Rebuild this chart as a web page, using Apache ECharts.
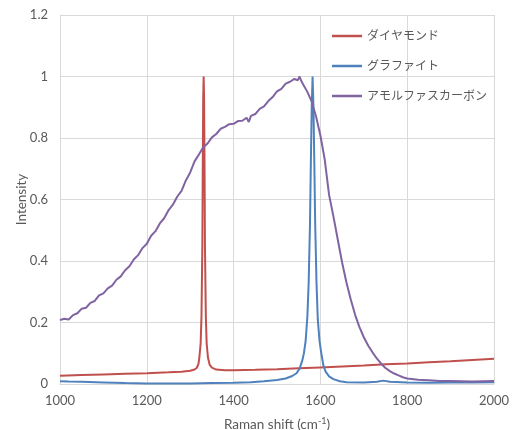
<!DOCTYPE html>
<html>
<head>
<meta charset="utf-8">
<script src="https://cdn.jsdelivr.net/npm/echarts@6/dist/echarts.min.js"></script>
<style>html,body{margin:0;padding:0;background:#fff}#c{width:512px;height:430px}</style>
</head>
<body>
<div id="c"></div>
<script>
var seriesNames = ['ダイヤモンド', 'グラファイト', 'アモルファスカーボン'];
var xTicks = [1000, 1200, 1400, 1600, 1800, 2000];
var yTicks = [0, 0.2, 0.4, 0.6, 0.8, 1, 1.2];

var diamondX = [1000,1050,1100,1150,1200,1250,1280,1300,1310,1315,1319,1321,1324,1326,1328,1329,1330,1331,1332,1333,1334,1336,1338,1341,1345,1350,1360,1380,1400,1450,1500,1550,1600,1650,1700,1750,1800,1850,1900,1950,2000];
var diamondY = [0.027,0.029,0.031,0.033,0.035,0.038,0.040,0.043,0.047,0.052,0.065,0.085,0.13,0.22,0.45,0.72,0.93,1.0,0.93,0.72,0.45,0.22,0.13,0.085,0.062,0.053,0.047,0.045,0.045,0.046,0.048,0.051,0.054,0.057,0.060,0.064,0.067,0.071,0.074,0.078,0.082];

var graphiteX = [1000,1020,1050,1100,1150,1200,1250,1300,1350,1400,1440,1470,1500,1520,1535,1545,1552,1558,1562,1566,1570,1573,1576,1578,1580,1582,1584,1586,1588,1591,1594,1598,1602,1607,1612,1620,1630,1645,1660,1700,1730,1745,1760,1800,1850,1900,1950,2000];
var graphiteY = [0.009,0.008,0.007,0.005,0.003,0.002,0.002,0.002,0.003,0.004,0.006,0.009,0.013,0.018,0.026,0.035,0.05,0.075,0.10,0.14,0.22,0.33,0.52,0.72,0.90,1.0,0.90,0.72,0.52,0.33,0.21,0.14,0.10,0.06,0.04,0.025,0.016,0.009,0.006,0.005,0.007,0.011,0.007,0.005,0.004,0.005,0.005,0.006];

var amorphousX = [1000,1010,1020,1030,1040,1050,1060,1070,1080,1090,1100,1110,1120,1130,1140,1150,1160,1170,1180,1190,1200,1210,1220,1230,1240,1250,1260,1270,1280,1290,1300,1310,1320,1330,1340,1350,1360,1370,1380,1390,1400,1410,1420,1430,1435,1440,1450,1460,1470,1480,1490,1500,1510,1520,1530,1540,1548,1552,1556,1560,1570,1580,1590,1600,1610,1620,1630,1640,1650,1660,1670,1680,1690,1700,1710,1720,1730,1740,1750,1760,1770,1780,1790,1800,1825,1850,1875,1900,1925,1950,1975,2000];
var amorphousY = [0.208,0.212,0.210,0.224,0.230,0.245,0.248,0.264,0.270,0.288,0.295,0.311,0.320,0.339,0.350,0.370,0.383,0.405,0.419,0.442,0.456,0.482,0.497,0.522,0.539,0.565,0.583,0.609,0.628,0.662,0.688,0.724,0.746,0.770,0.782,0.802,0.813,0.830,0.836,0.845,0.846,0.855,0.856,0.866,0.852,0.872,0.878,0.895,0.903,0.920,0.933,0.952,0.960,0.977,0.983,0.992,0.988,1.0,0.985,0.975,0.950,0.918,0.870,0.808,0.730,0.615,0.545,0.470,0.395,0.330,0.275,0.225,0.185,0.152,0.125,0.103,0.083,0.066,0.052,0.042,0.034,0.028,0.022,0.018,0.014,0.012,0.010,0.010,0.009,0.008,0.009,0.010];

function pairs(xs, ys) { return xs.map(function (x, i) { return [x, ys[i]]; }); }

var colors = ['#C0504D', '#4F81BD', '#8064A2'];
var font = 'Lato, "Noto Sans CJK JP", sans-serif';
var chart = echarts.init(document.getElementById('c'), null, { renderer: 'canvas' });
chart.setOption({
  animation: false,
  color: colors,
  textStyle: { fontFamily: font },
  grid: { left: 60, right: 18, top: 15, bottom: 46, containLabel: false, outerBoundsMode: 'none' },
  legend: {
    orient: 'vertical', left: 327, top: 25, itemGap: 18,
    itemWidth: 30, itemHeight: 2.5, icon: 'rect',
    textStyle: { color: '#595959', fontSize: 12, fontFamily: font },
    data: seriesNames
  },
  xAxis: {
    type: 'value', min: xTicks[0], max: xTicks[xTicks.length - 1], interval: 200,
    name: '{a|Raman shift (cm}{s|-1}{a|)}', nameLocation: 'middle', nameGap: 33, nameMoveOverlap: false,
    nameTextStyle: { rich: { a: { color: '#595959', fontSize: 13.5, fontFamily: font }, s: { color: '#595959', fontSize: 9, fontFamily: font, verticalAlign: 'bottom', padding: [0, 0, 6, 0] } } },
    axisLine: { show: true, lineStyle: { color: '#D9D9D9' } },
    axisTick: { show: false },
    axisLabel: { color: '#595959', fontSize: 13, margin: 10, formatter: function (v) { return String(v); } },
    splitLine: { show: true, lineStyle: { color: '#D9D9D9', width: 1 } }
  },
  yAxis: {
    type: 'value', min: 0, max: 1.2, interval: 0.2,
    name: 'Intensity', nameLocation: 'middle', nameGap: 32, nameRotate: 90, nameMoveOverlap: false,
    nameTextStyle: { color: '#595959', fontSize: 13.5 },
    axisLine: { show: true, lineStyle: { color: '#D9D9D9' } },
    axisTick: { show: false },
    axisLabel: { color: '#595959', fontSize: 13, margin: 12, formatter: function (v) { return String(Math.round(v * 10) / 10); } },
    splitLine: { show: true, lineStyle: { color: '#D9D9D9', width: 1 } }
  },
  series: [
    { name: seriesNames[0], type: 'line', data: pairs(diamondX, diamondY), showSymbol: false, lineStyle: { width: 2 } },
    { name: seriesNames[1], type: 'line', data: pairs(graphiteX, graphiteY), showSymbol: false, lineStyle: { width: 2 } },
    { name: seriesNames[2], type: 'line', data: pairs(amorphousX, amorphousY), showSymbol: false, lineStyle: { width: 2 } }
  ]
});
</script>
</body>
</html>
